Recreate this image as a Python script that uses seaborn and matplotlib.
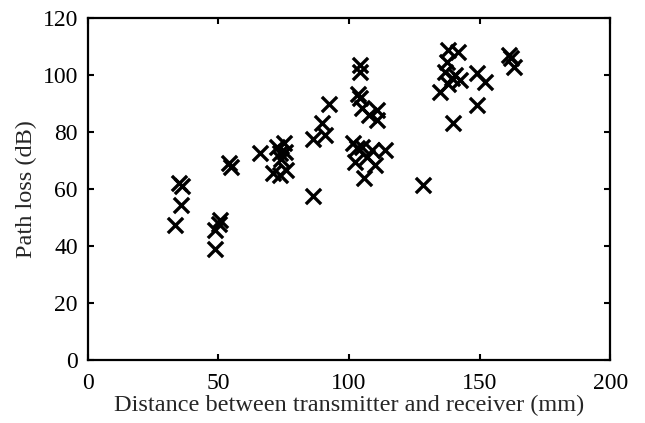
import matplotlib
matplotlib.use('Agg')
import matplotlib.pyplot as plt
import seaborn as sns
import pandas as pd

# measured points: distance (mm) and path loss (dB)
distance = [33.5, 35.0, 36.0, 35.8, 48.8, 48.8, 50.7, 50.2, 54.0, 54.8,
            66.0, 72.5, 73.5, 71.0, 73.5, 75.0, 75.5, 76.0, 74.0,
            86.4, 86.4, 89.6, 90.9, 92.2,
            101.7, 102.4, 103.0, 104.2, 104.2, 103.6, 104.3, 104.9, 105.6,
            106.8, 107.5, 108.8, 110.0, 110.7, 110.7, 113.9, 105.0,
            128.5, 134.9, 136.8, 137.5, 138.1, 138.1, 139.4, 140.0, 141.9,
            142.6, 140.5, 149.0, 149.0, 152.1, 161.1, 162.0, 163.0]
path_loss = [47.3, 62.0, 61.0, 54.5, 38.8, 45.5, 49.0, 47.5, 69.0, 67.8,
             72.6, 74.8, 72.5, 65.5, 65.0, 76.0, 73.0, 66.5, 70.5,
             77.7, 57.6, 83.0, 79.1, 90.0,
             76.0, 69.5, 74.5, 103.5, 101.1, 93.5, 91.8, 74.8, 63.7,
             71.3, 85.9, 73.6, 68.3, 87.7, 84.2, 73.6, 88.5,
             61.3, 94.1, 101.1, 104.6, 108.7, 97.0, 98.8, 83.0, 108.2,
             98.2, 100.0, 100.6, 89.4, 97.6, 107.0, 106.0, 102.9]

x_ticks = [0, 50, 100, 150, 200]
y_ticks = [0, 20, 40, 60, 80, 100, 120]

df = pd.DataFrame({'distance': distance, 'path_loss': path_loss})

sns.set_style('ticks')
plt.rcParams['font.family'] = ['Liberation Serif', 'DejaVu Serif']

fig = plt.figure(figsize=(6.45, 4.23), dpi=100)
ax = fig.add_axes([0.136, 0.150, 0.810, 0.807])

sns.scatterplot(data=df, x='distance', y='path_loss', marker='x', color='black',
                s=120, linewidth=2.4, ax=ax, legend=False)

ax.set_xlim(0, 200)
ax.set_ylim(0, 120)
ax.set_xticks(x_ticks)
ax.set_yticks(y_ticks)
ax.tick_params(direction='in', length=4, width=1.5, top=True, right=True,
               labelsize=17, colors='black')
ax.tick_params(axis='x', pad=10)
ax.tick_params(axis='y', pad=7)
for sp in ax.spines.values():
    sp.set_linewidth(1.6)
    sp.set_color('black')

ax.set_xlabel('Distance between transmitter and receiver (mm)', fontsize=17.5, labelpad=0)
ax.set_ylabel('Path loss (dB)', fontsize=17.5, labelpad=4)

fig.savefig('out.png', dpi=100)
